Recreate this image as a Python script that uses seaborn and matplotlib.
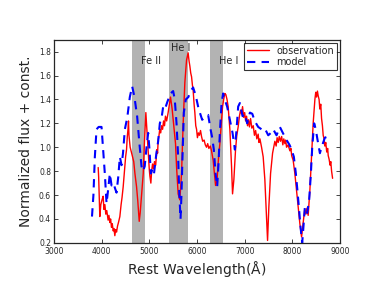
"""
Spectrum comparison: observed vs model, with shaded line regions.
Saves the figure as out.png.
"""
import matplotlib
matplotlib.use('Agg')
import matplotlib.pyplot as plt
import seaborn as sns
import pandas as pd

# observed spectrum (rest wavelength in Angstrom, normalized flux)
obs_wave = [3930, 3940, 3955, 3964, 3985, 4010, 4034, 4050, 4070, 4090, 4110, 4138,
            4155, 4175, 4190, 4209, 4225, 4245, 4260, 4279, 4295, 4315, 4335, 4355,
            4384, 4410, 4430, 4454, 4470, 4489, 4505, 4524, 4540, 4555, 4565, 4575,
            4600, 4630, 4650, 4675, 4700, 4734, 4760, 4790, 4810, 4840, 4874, 4900,
            4929, 4950, 4980, 5000, 5013, 5034, 5050, 5069, 5090, 5110, 5135, 5160,
            5175, 5187, 5205, 5220, 5240, 5258, 5280, 5300, 5320, 5340, 5365, 5396,
            5420, 5446, 5480, 5516, 5551, 5572, 5606, 5641, 5677, 5711, 5746, 5782,
            5815, 5835, 5851, 5870, 5887, 5905, 5920, 5940, 5956, 5975, 5992, 6010,
            6030, 6050, 6075, 6096, 6120, 6150, 6175, 6201, 6225, 6250, 6280, 6306,
            6340, 6365, 6390, 6420, 6450, 6480, 6510, 6537, 6560, 6585, 6606, 6630,
            6654, 6690, 6725, 6746, 6774, 6809, 6835, 6864, 6890, 6914, 6935, 6956,
            6980, 7000, 7020, 7040, 7060, 7080, 7100, 7124, 7150, 7180, 7205, 7230,
            7255, 7283, 7300, 7320, 7354, 7388, 7423, 7459, 7480, 7507, 7543, 7585,
            7610, 7633, 7660, 7680, 7703, 7725, 7750, 7775, 7800, 7820, 7843, 7860,
            7878, 7910, 7948, 7970, 7985, 8017, 8052, 8088, 8122, 8157, 8193, 8215,
            8241, 8260, 8283, 8305, 8331, 8367, 8402, 8436, 8472, 8490, 8507, 8525,
            8541, 8560, 8575, 8595, 8612, 8630, 8646, 8665, 8681, 8700, 8720, 8740,
            8751, 8770, 8790, 8805, 8822, 8843]
obs_flux = [0.83, 0.75, 0.55, 0.42, 0.52, 0.56, 0.59, 0.48, 0.52, 0.44, 0.47, 0.39,
            0.43, 0.37, 0.40, 0.33, 0.36, 0.30, 0.32, 0.26, 0.31, 0.29, 0.34, 0.37,
            0.42, 0.52, 0.58, 0.67, 0.75, 0.84, 0.92, 0.98, 1.09, 1.15, 1.22, 1.10,
            1.00, 0.95, 0.92, 0.88, 0.78, 0.67, 0.55, 0.38, 0.45, 0.60, 0.78, 1.05,
            1.29, 1.15, 0.95, 0.82, 0.76, 0.70, 0.80, 0.86, 0.82, 0.88, 0.85, 0.98,
            0.95, 1.06, 1.10, 1.15, 1.12, 1.18, 1.15, 1.22, 1.18, 1.26, 1.22, 1.29,
            1.35, 1.42, 1.32, 1.17, 1.03, 0.84, 0.61, 0.56, 0.78, 1.20, 1.54, 1.73,
            1.79, 1.72, 1.68, 1.62, 1.59, 1.52, 1.48, 1.36, 1.29, 1.18, 1.15, 1.08,
            1.12, 1.10, 1.14, 1.09, 1.05, 1.06, 1.02, 1.00, 1.03, 0.99, 1.01, 0.97,
            0.89, 0.78, 0.68, 0.72, 0.90, 1.03, 1.20, 1.34, 1.40, 1.45, 1.44, 1.40,
            1.34, 1.15, 0.84, 0.61, 0.73, 0.98, 1.10, 1.17, 1.26, 1.31, 1.28, 1.34,
            1.25, 1.29, 1.22, 1.26, 1.18, 1.23, 1.17, 1.24, 1.16, 1.18, 1.10, 1.14,
            1.07, 1.11, 1.04, 1.07, 1.00, 0.92, 0.73, 0.42, 0.22, 0.50, 0.78, 0.95,
            1.00, 1.05, 1.01, 1.08, 1.04, 1.09, 1.05, 1.09, 1.02, 1.07, 1.03, 1.06,
            1.00, 1.02, 0.97, 0.99, 0.93, 0.89, 0.78, 0.64, 0.50, 0.36, 0.25, 0.33,
            0.42, 0.48, 0.44, 0.49, 0.43, 0.64, 0.92, 1.20, 1.40, 1.46, 1.42, 1.47,
            1.43, 1.40, 1.32, 1.36, 1.24, 1.18, 1.10, 1.07, 1.01, 1.04, 0.96, 0.99,
            0.93, 0.90, 0.85, 0.88, 0.80, 0.74]

# model spectrum
mod_wave = [3800, 3830, 3860, 3895, 3940, 4000, 4030, 4069, 4105, 4140, 4174, 4210,
            4250, 4280, 4314, 4350, 4384, 4420, 4450, 4489, 4540, 4593, 4642, 4690,
            4746, 4790, 4838, 4870, 4905, 4943, 4978, 5005, 5034, 5070, 5100, 5150,
            5187, 5222, 5260, 5292, 5330, 5380, 5446, 5501, 5535, 5572, 5606, 5627,
            5656, 5675, 5697, 5725, 5767, 5820, 5866, 5920, 5960, 5992, 6030, 6061,
            6109, 6170, 6235, 6285, 6320, 6354, 6390, 6424, 6450, 6480, 6516, 6549,
            6580, 6633, 6690, 6746, 6795, 6830, 6864, 6900, 6956, 7000, 7053, 7110,
            7160, 7210, 7283, 7354, 7420, 7494, 7550, 7599, 7668, 7738, 7800, 7878,
            7940, 7983, 8031, 8073, 8110, 8136, 8172, 8206, 8235, 8262, 8311, 8352,
            8388, 8416, 8457, 8490, 8528, 8577, 8612, 8681, 8751]
mod_flux = [0.42, 0.60, 0.92, 1.15, 1.17, 1.17, 1.00, 0.78, 0.53, 0.65, 0.78, 0.68,
            0.70, 0.66, 0.62, 0.75, 0.92, 0.85, 0.95, 1.15, 1.25, 1.42, 1.51, 1.42,
            1.26, 1.05, 0.84, 0.80, 0.84, 1.00, 1.12, 0.98, 0.78, 0.82, 0.78, 0.95,
            1.05, 1.20, 1.25, 1.34, 1.32, 1.38, 1.45, 1.47, 1.40, 1.20, 0.92, 0.64,
            0.40, 0.60, 0.92, 1.29, 1.40, 1.42, 1.47, 1.50, 1.45, 1.40, 1.33, 1.29,
            1.23, 1.25, 1.27, 1.15, 1.08, 0.98, 0.78, 0.67, 0.85, 1.12, 1.37, 1.45,
            1.40, 1.34, 1.23, 1.12, 0.98, 1.15, 1.34, 1.37, 1.26, 1.28, 1.20, 1.29,
            1.28, 1.22, 1.17, 1.15, 1.16, 1.10, 1.12, 1.15, 1.10, 1.17, 1.12, 1.06,
            1.02, 0.98, 0.92, 0.78, 0.62, 0.50, 0.33, 0.20, 0.35, 0.50, 0.45, 0.56,
            0.78, 1.00, 1.20, 1.15, 1.06, 0.95, 1.00, 1.08, 1.09]

# shaded line regions and their labels
band_lo = [4640, 5410, 6270]
band_hi = [4910, 5815, 6540]
band_names = ['Fe II', 'He I', 'He I']
name_x = [5030, 5660, 6660]
name_y = [1.72, 1.83, 1.72]


def plot_spectra():
    sns.set_style("ticks")
    plt.rcParams['font.family'] = ['DejaVu Sans']
    fig, ax = plt.subplots(figsize=(3.9, 2.94), dpi=100)
    fig.subplots_adjust(left=0.138, right=0.872, bottom=0.174, top=0.865)

    for lo, hi in zip(band_lo, band_hi):
        ax.axvspan(lo, hi, color='#b3b3b3', lw=0, zorder=0)
    for name, x, y in zip(band_names, name_x, name_y):
        ax.text(x, y, name, ha='center', va='center', fontsize=7)

    obs = pd.DataFrame({'wave': obs_wave, 'flux': obs_flux})
    mod = pd.DataFrame({'wave': mod_wave, 'flux': mod_flux})
    sns.lineplot(data=obs, x='wave', y='flux', ax=ax, color='red', lw=1.0,
                 sort=False, label='observation')
    sns.lineplot(data=mod, x='wave', y='flux', ax=ax, color='blue', lw=1.5,
                 sort=False, label='model', dashes=False, linestyle=(0, (4, 3)))

    ax.set_xlim(3000, 9000)
    ax.set_ylim(0.2, 1.9)
    ax.set_xticks(range(3000, 9001, 1000))
    ax.set_yticks([0.2, 0.4, 0.6, 0.8, 1.0, 1.2, 1.4, 1.6, 1.8])
    ax.tick_params(direction='in', top=True, right=True, labelsize=5.5,
                   length=3, width=0.6, pad=2)
    ax.tick_params(axis='x', pad=3)
    for s in ax.spines.values():
        s.set_linewidth(0.9)
    ax.set_xlabel(r'Rest Wavelength($\mathrm{\AA}$)', fontsize=10, labelpad=2)
    ax.set_ylabel('Normalized flux + const.', fontsize=10, labelpad=4)

    leg = ax.legend(loc='upper right', fontsize=7, frameon=True, fancybox=False,
                    handlelength=2.2, borderpad=0.3, labelspacing=0.2,
                    borderaxespad=0.3)
    leg.get_frame().set_edgecolor('black')
    leg.get_frame().set_linewidth(0.8)

    fig.savefig('out.png', dpi=100)


def main():
    plot_spectra()


if __name__ == "__main__":
    main()
